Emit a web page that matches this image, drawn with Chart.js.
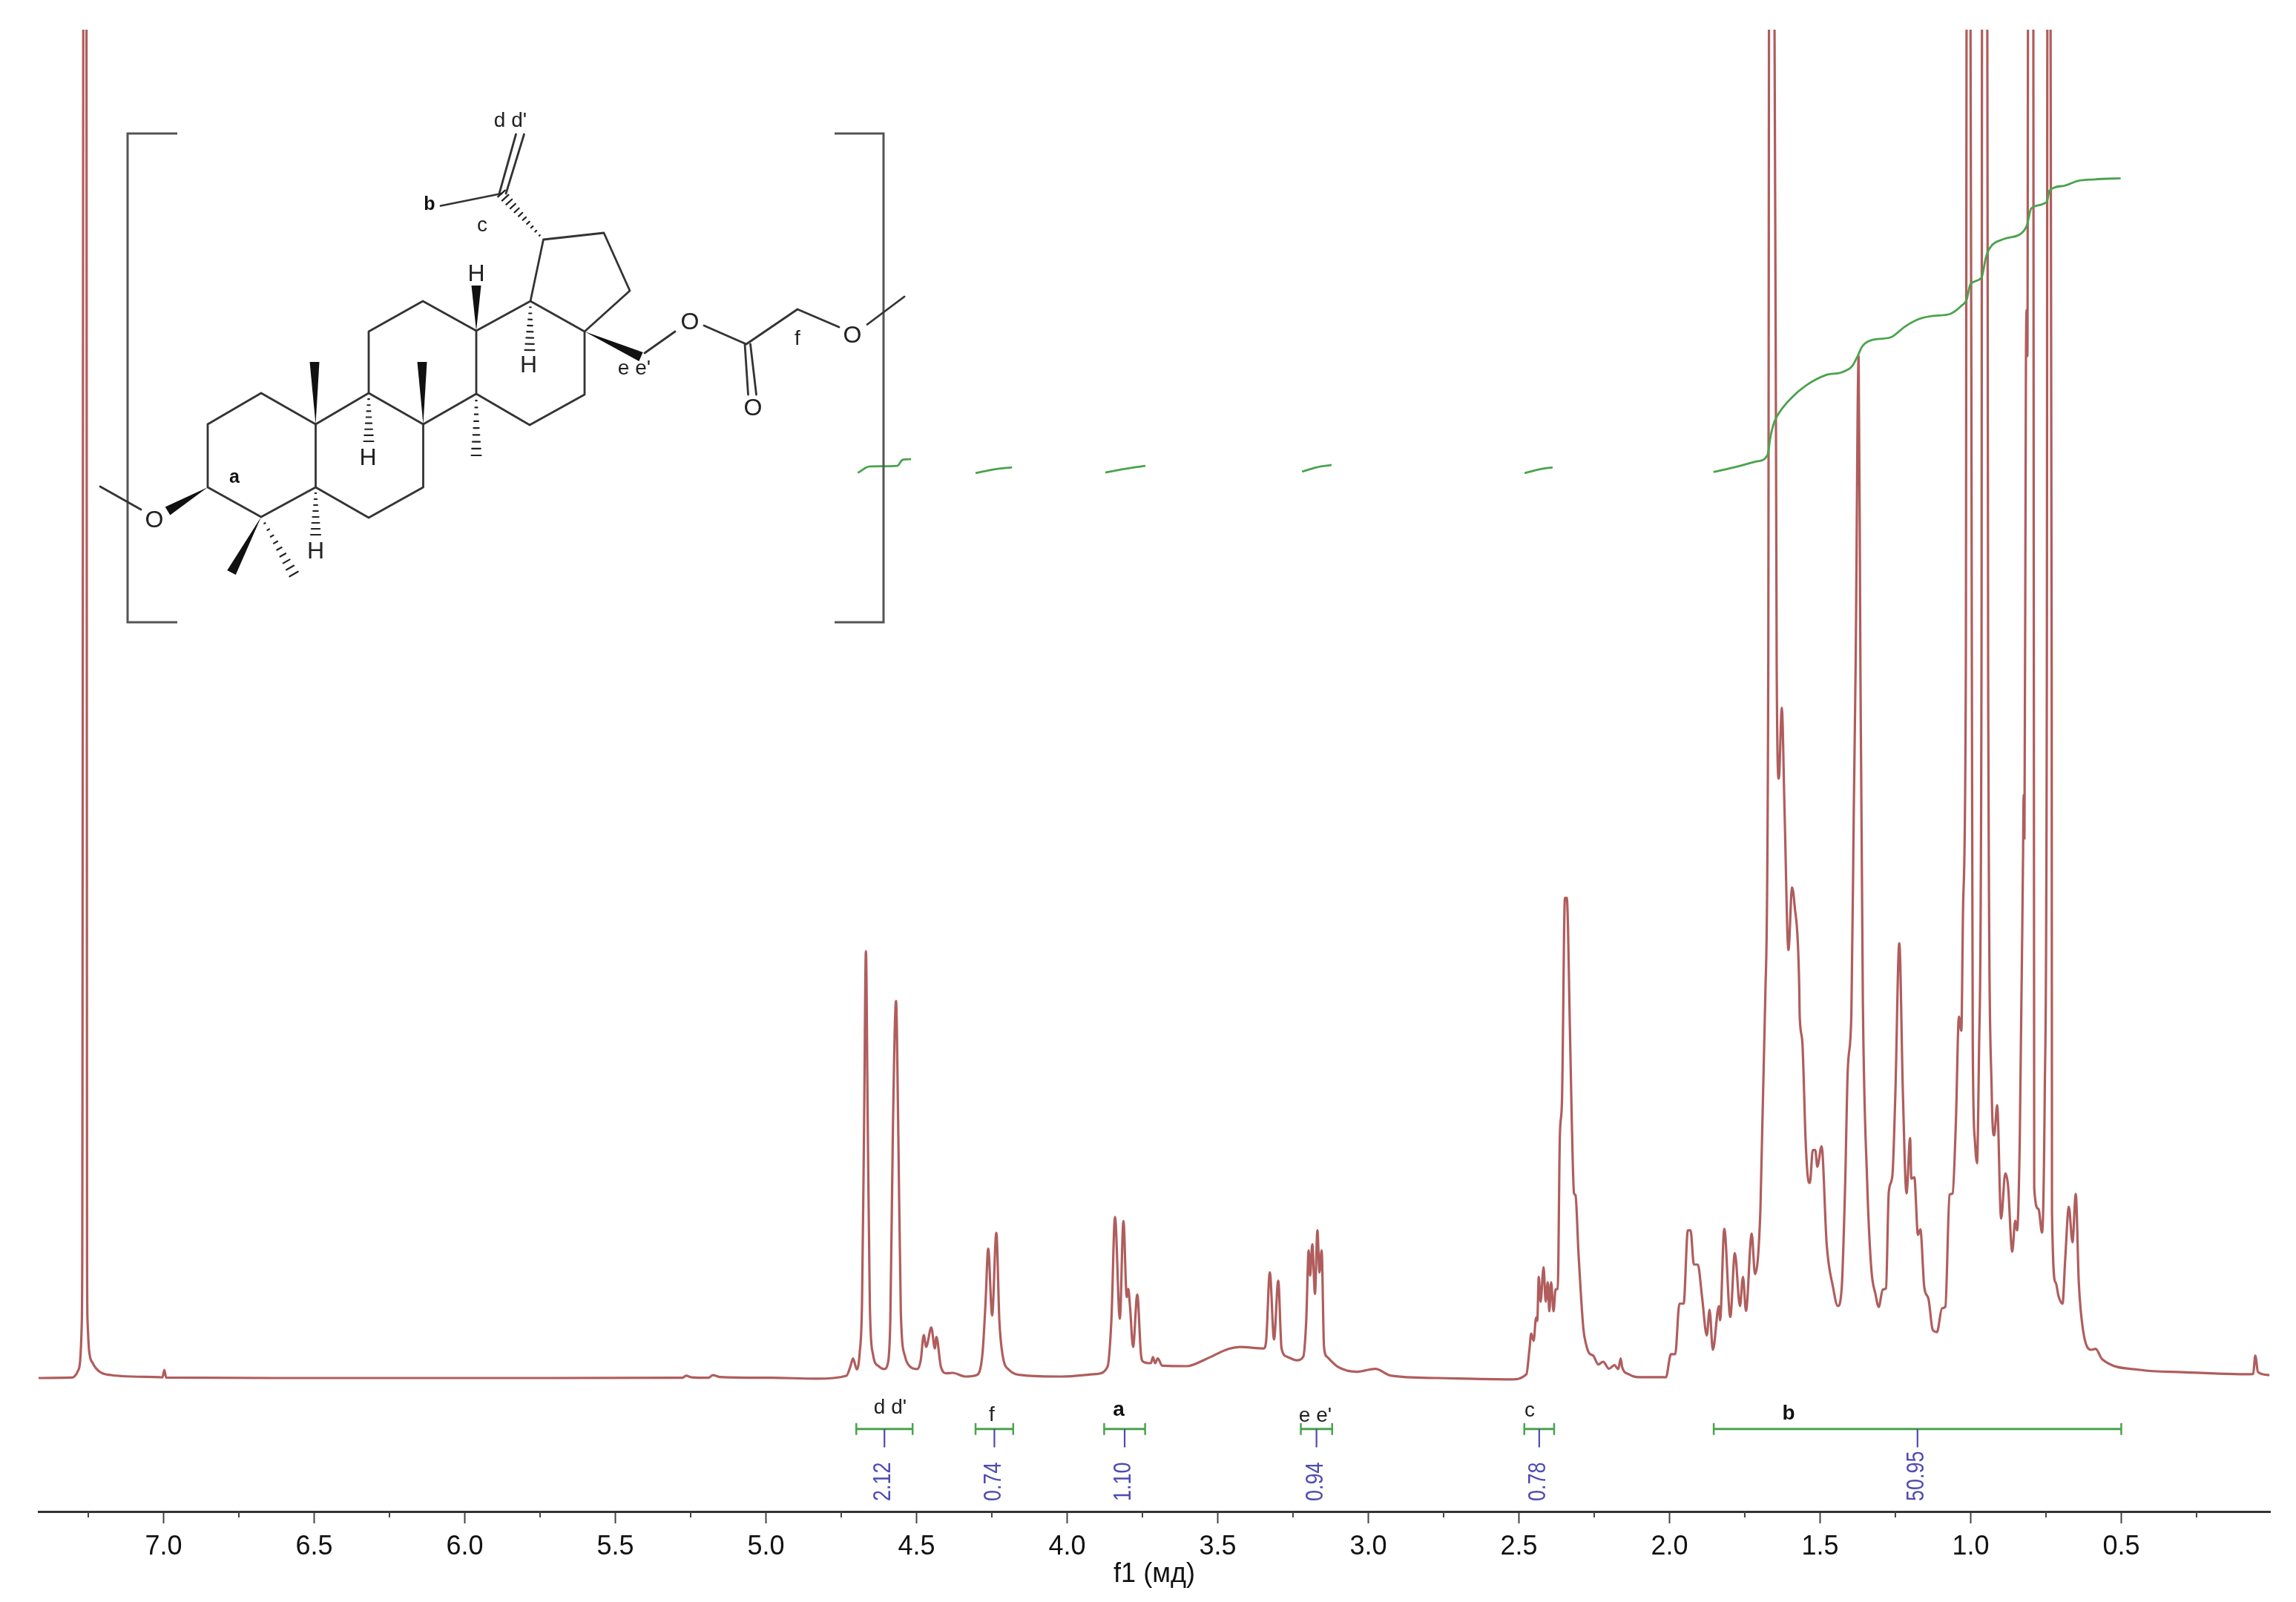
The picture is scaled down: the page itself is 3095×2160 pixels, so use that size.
<!DOCTYPE html>
<html><head><meta charset="utf-8">
<style>html,body{margin:0;padding:0;background:#fff}canvas{display:block;filter:blur(0.7px)}</style>
<script src="https://cdn.jsdelivr.net/npm/chart.js@4/dist/chart.umd.min.js"></script>
</head><body><canvas id="c" width="3095" height="2160"></canvas>
<script>
// Spectrum: chemical shift (ppm) and intensity (percent of the visible height).
const spectrumPpm = [
7.415,7.309,7.297,7.285,7.277,7.272,7.270,7.266,7.256,7.254,7.2525,7.2475,7.235,7.2106,7.1736,7.1367,7.0136,7.0037,6.9975,6.9914,
6.558,5.819,5.277,5.265,5.247,5.191,5.176,5.154,4.982,4.834,
4.733,4.720,4.711,4.698,4.689,4.681,4.674,4.668,4.662,4.655,4.645,4.626,4.608,4.595,4.587,4.578,4.568,4.561,4.552,4.538,4.520,4.497,
4.486,4.476,4.468,4.451,4.439,4.434,4.419,4.400,4.381,4.337,4.300,4.281,4.271,4.262,4.249,4.235,4.225,4.215,4.193,4.143,4.017,3.904,
3.866,3.853,3.841,3.825,3.813,3.802,3.797,3.791,3.781,3.767,3.755,3.747,3.722,3.715,3.708,3.699,3.684,3.602,3.539,3.464,3.426,3.347,
3.339,3.327,3.313,3.299,3.288,3.269,3.238,3.216,3.206,3.198,3.193,3.186,3.177,3.169,3.162,3.155,3.147,3.137,3.100,3.037,2.977,2.924,2.772,2.526,
2.475,2.465,2.459,2.451,2.443,2.439,2.434,2.428,2.418,2.411,2.404,2.399,2.393,2.385,2.378,2.371,2.364,2.357,2.347,2.341,2.330,2.324,2.317,2.312,2.302,2.286,2.277,2.267,2.253,2.236,2.220,2.201,2.183,2.170,2.162,2.157,2.135,2.102,2.017,
2.012,1.995,1.981,1.967,1.953,1.939,1.930,1.919,1.906,1.892,1.876,1.867,1.856,1.836,1.832,1.818,1.798,1.783,1.766,1.756,1.746,1.727,1.716,1.698,1.682,1.672,1.669,1.652,1.644,
1.637,1.627,1.618,1.605,1.593,1.585,1.569,1.568,1.559,1.548,1.541,1.534,1.524,1.516,1.509,1.495,1.478,1.457,1.441,1.428,1.417,1.408,1.396,1.388,1.382,1.372,1.366,
1.358,1.344,1.330,1.316,1.305,1.292,1.281,1.272,1.260,1.250,1.237,1.225,1.213,1.201,1.197,1.187,1.175,1.167,1.154,1.140,1.126,1.112,1.095,1.084,1.070,1.060,1.049,1.039,1.031,1.025,1.016,1.013,1.001,0.996,
0.993,0.986,0.979,0.972,0.964,0.962,0.945,0.942,0.930,0.922,0.912,0.899,0.885,0.876,0.862,0.852,0.846,0.837,0.826,0.824,0.8214,0.8165,0.814,0.8116,0.809,0.792,
0.789,0.775,0.763,0.754,0.747,0.745,0.735,0.731,0.730,0.718,0.708,0.695,0.686,0.674,0.662,0.651,0.641,0.627,0.599,0.585,0.564,0.437,0.297,0.069,0.062,0.055,0.046,0.008
];
const spectrumIntensity = [
0,0.03,0.1,0.5,1.28,3.78,8.78,106,106,8.78,4.33,2.11,1.11,0.44,0.22,0.14,0.06,0.05,0.61,0.03,
0,0,0.02,0.17,0.05,0.02,0.22,0.08,0.02,-0.05,
0.17,0.83,1.46,0.64,1.83,5.56,19.19,31.97,19.19,5.56,1.83,0.89,0.67,1.11,4.33,19.22,28.25,19.22,4.83,1.61,0.83,0.67,
1.33,3.22,2.33,3.78,2.22,3.08,0.83,0.35,0.39,0.11,0.22,1.83,5.56,9.69,4.69,10.89,4.33,1.83,0.61,0.2,0.11,0.3,
0.84,4.33,12.06,4.44,11.76,6.06,6.67,5.31,2.33,6.25,1.83,1.22,1.11,1.56,1.11,1.46,0.92,0.89,1.42,2.18,2.33,2.22,
2.83,7.91,2.89,7.29,2.22,1.59,1.33,1.59,4.33,9.57,7.67,10.02,6.3,11.06,7.91,9.57,2.33,1.59,0.83,0.47,0.69,0.17,0,-0.1,
0.28,2.13,3.33,2.79,4.52,4.28,7.58,5.72,8.3,5.72,7.18,5.0,7.18,5.0,6.65,6.67,18.08,20.72,35.96,35.96,25.52,18.89,13.83,13.69,9.31,3.72,2.53,1.87,1.67,1.02,1.22,0.7,0.96,0.67,1.47,0.81,0.28,0.06,0.06,
0.05,1.78,1.78,5.57,5.57,11.06,11.06,8.5,8.5,6.11,3.19,5.11,2.11,5.39,4.33,11.17,4.57,9.36,5.39,7.58,5.03,10.81,7.79,12.67,28.42,53.2,106,106,53.2,
44.9,50.2,42.6,32.06,36.74,35.5,29.13,27.36,25.22,17.79,15.13,14.61,17.08,17.08,15.83,17.36,10.0,6.81,5.39,6.81,14.24,23.11,27.36,42.61,53.2,76.5,53.2,
28.44,14.94,8.22,6.28,5.33,6.63,6.73,13.89,15.13,21.33,32.57,21.33,13.83,17.97,14.94,15.03,10.72,11.13,6.81,5.92,3.61,3.44,5.22,5.33,13.72,13.83,19.22,27.07,26.01,35.5,53.2,106,106,53.2,
24.9,17.8,16.09,24.89,53.2,106,106,53.2,21.33,18.17,20.44,11.94,15.33,14.44,9.46,11.78,11.06,17.79,39.22,43.67,40.44,75.83,80,76.56,106,106,
14.24,12.67,10.89,21.33,53.2,106,106,53.2,12.5,7.17,6.11,5.57,8.94,12.83,10.17,13.78,7.17,3.61,2.11,2.19,1.42,0.61,0.44,0.28,0.3,1.67,0.44,0.22
];

// Running integral: large region
const integralPpm = [1.854,1.785,1.708,1.675,1.664,1.652,1.633,1.595,1.548,1.482,1.426,1.393,1.374,1.360,1.331,1.265,1.218,1.171,1.124,1.068,1.030,1.013,1.001,0.964,0.949,0.935,0.888,0.832,0.813,0.799,0.747,0.738,0.691,0.644,0.587,0.502];
const integralValue = [67.87,68.22,68.67,69.11,70.59,71.61,72.4,73.42,74.33,75.12,75.35,75.81,76.61,77.28,77.73,77.96,78.76,79.33,79.56,79.71,80.33,80.79,81.93,82.43,83.97,84.69,85.33,85.74,86.35,87.61,88.11,88.96,89.3,89.68,89.79,89.87];
// Running integral: small regions
const integralDdPpm = [4.695,4.655,4.564,4.546,4.518];
const integralDdValue = [67.8,68.28,68.33,68.78,68.83];
const integralFPpm = [4.304,4.242,4.183];
const integralFValue = [67.78,68.06,68.22];
const integralAPpm = [3.873,3.807,3.740];
const integralAValue = [67.83,68.11,68.33];
const integralEPpm = [3.220,3.171,3.122];
const integralEValue = [67.89,68.22,68.39];
const integralCPpm = [2.481,2.432,2.388];
const integralCValue = [67.78,68.06,68.22];

// Integration regions
const regionStart = [4.700,4.304,3.877,3.224,2.482,1.853];
const regionEnd   = [4.513,4.179,3.741,3.120,2.383,0.500];
const regionValue = ["2.12","0.74","1.10","0.94","0.78","50.95"];
const regionName  = ["d d'","f","a","e e'","c","b"];
const regionBold  = [false,false,true,false,false,true];
const regionLevel = -3.82;
const regionStemEnd = -5.2;

// X axis
const minorTicks = [7.25,6.75,6.25,5.75,5.25,4.75,4.25,3.75,3.25,2.75,2.25,1.75,1.25,0.75,0.25];

const RED='rgba(145,30,30,0.72)', GREEN='#4aa34c', BLUE='#4f4bb0', TEXT='#222', BOND='#333';
const zip=(a,b)=>a.map((v,i)=>({x:v,y:b[i]}));
const lineDs=(data,color,w,order)=>({data,borderColor:color,borderWidth:w,pointRadius:0,tension:0,fill:false,order});
const curveDs=(data,color,w,order)=>Object.assign(lineDs(data,color,w,order),{cubicInterpolationMode:'monotone'});

const datasets=[
  curveDs(zip(integralPpm,integralValue),GREEN,2.8,1),
  curveDs(zip(integralDdPpm,integralDdValue),GREEN,2.8,1),
  curveDs(zip(integralFPpm,integralFValue),GREEN,2.8,1),
  curveDs(zip(integralAPpm,integralAValue),GREEN,2.8,1),
  curveDs(zip(integralEPpm,integralEValue),GREEN,2.8,1),
  curveDs(zip(integralCPpm,integralCValue),GREEN,2.8,1),
  curveDs(zip(spectrumPpm,spectrumIntensity),RED,3.2,5)
];
regionStart.forEach((s,i)=>{
  const mid=(s+regionEnd[i])/2;
  datasets.push(lineDs([{x:mid,y:regionLevel},{x:mid,y:regionStemEnd}],BLUE,2.2,2));
  const d=lineDs([{x:s,y:regionLevel},{x:regionEnd[i],y:regionLevel}],GREEN,3.2,2);
  d.pointRadius=8; d.pointStyle='line'; d.pointRotation=90; d.pointBorderWidth=2.5; d.pointBorderColor=GREEN;
  datasets.push(d);
});

// Annotations drawn on the canvas through the chart's scales
const annotations={id:'annotations',afterDraw(chart){
  const ctx=chart.ctx,xs=chart.scales.x,ys=chart.scales.y,axisY=ys.bottom;
  ctx.save();
  ctx.strokeStyle='#444';ctx.lineWidth=2;
  minorTicks.forEach(v=>{const px=xs.getPixelForValue(v);ctx.beginPath();ctx.moveTo(px,axisY);ctx.lineTo(px,axisY+8);ctx.stroke();});
  regionStart.forEach((s,i)=>{
    const mid=xs.getPixelForValue((s+regionEnd[i])/2);
    ctx.save();ctx.translate(mid-1,axisY-14);ctx.rotate(-Math.PI/2);ctx.scale(1,1.22);
    ctx.font='27px "Liberation Sans"';ctx.fillStyle=BLUE;ctx.textAlign='left';ctx.textBaseline='middle';
    ctx.fillText(regionValue[i],0,0);ctx.restore();
  });
  const nameX=[1200,1337,1508,1773,2062,2411],nameY=[1906,1916,1909,1917,1910,1914];
  regionName.forEach((n,i)=>{
    ctx.font=(regionBold[i]?'bold ':'')+'28px "Liberation Sans"';ctx.fillStyle=regionBold[i]?'#111':TEXT;
    ctx.textAlign='center';ctx.textBaseline='alphabetic';ctx.fillText(n,nameX[i],nameY[i]);
  });
  drawStructure(ctx);
  ctx.restore();
}};

function drawStructure(ctx){
  // Brackets
  ctx.strokeStyle='#555';ctx.lineWidth=3;ctx.lineJoin='miter';
  const poly=p=>{ctx.beginPath();p.forEach((q,i)=>i?ctx.lineTo(q[0],q[1]):ctx.moveTo(q[0],q[1]));ctx.stroke();};
  poly([[239,180],[172,180],[172,839],[239,839]]);
  poly([[1125,180],[1191,180],[1191,839],[1125,839]]);
  // Skeleton
  ctx.strokeStyle=BOND;ctx.lineWidth=2.8;ctx.lineJoin='round';ctx.lineCap='round';
  const A=[[280,572],[352,530],[425.5,572],[425.5,657],[352,697],[280,657]];
  poly([...A,A[0]]);
  poly([[425.5,572],[497,530],[570.5,572],[570.5,657],[497,698],[425.5,657]]);
  poly([[497,530],[497,447],[570,406],[642,446],[642,531],[570.5,572]]);
  poly([[642,446],[715,406],[788,447],[788,532],[714,573],[642,531]]);
  poly([[715,406],[732.5,323],[814,314],[849,392],[788,447]]);
  poly([[676,261],[594,277.5]]);
  poly([[673,261],[695.5,181]]);poly([[682,261],[706.5,181]]);
  poly([[190,687],[135,656]]);
  poly([[869,476],[910,447]]);
  poly([[949,439],[1006,464],[1075,417],[1131,441]]);
  poly([[1169,437.5],[1219,400]]);
  poly([[1004,464],[1008.5,532]]);poly([[1011.5,464],[1019.5,532]]);
  // Stereo bonds
  const wedge=(x1,y1,x2,y2,w)=>{const dx=x2-x1,dy=y2-y1,l=Math.hypot(dx,dy),nx=-dy/l*w/2,ny=dx/l*w/2;
    ctx.fillStyle='#111';ctx.beginPath();ctx.moveTo(x1,y1);ctx.lineTo(x2+nx,y2+ny);ctx.lineTo(x2-nx,y2-ny);ctx.closePath();ctx.fill();};
  const hash=(x1,y1,x2,y2,w,n)=>{const dx=x2-x1,dy=y2-y1,l=Math.hypot(dx,dy),ux=-dy/l,uy=dx/l;
    ctx.strokeStyle='#222';ctx.lineWidth=2.2;
    for(let i=1;i<=n;i++){const t=i/n,cx=x1+dx*t,cy=y1+dy*t,h=w*t/2;ctx.beginPath();ctx.moveTo(cx-ux*h,cy-uy*h);ctx.lineTo(cx+ux*h,cy+uy*h);ctx.stroke();}};
  wedge(642,446,642,385,13);
  wedge(425.5,572,424,488,13);
  wedge(570.5,572,569,488,13);
  wedge(352,697,312,772,13);
  wedge(280,657,226,689,13);
  wedge(788,447,864,481,13);
  hash(732.5,323,676,261,13,11);
  hash(715,406,714,472,13,8);
  hash(497,530,497,595,13,8);
  hash(642,531,642,614,13,9);
  hash(425.5,657,425.5,721,13,8);
  hash(352,697,396,774,13,9);
  // Atom and position labels
  ctx.fillStyle=TEXT;ctx.textAlign='center';ctx.textBaseline='middle';
  ctx.font='32px "Liberation Sans"';
  [[642,370],[712.5,493],[496,618],[425.5,744]].forEach(p=>ctx.fillText('H',p[0],p[1]));
  [[208,702],[930,435],[1015,551],[1149,453]].forEach(p=>ctx.fillText('O',p[0],p[1]));
  ctx.font='28px "Liberation Sans"';
  ctx.fillText("d d'",688,163);ctx.fillText('c',650,304);ctx.fillText("e e'",855,497);ctx.fillText('f',1075,457);
  ctx.font='bold 25px "Liberation Sans"';ctx.fillStyle='#111';
  ctx.fillText('a',316,644);ctx.fillText('b',579,276);
}

new Chart(document.getElementById('c'),{
  type:'line',
  data:{datasets},
  plugins:[annotations],
  options:{
    responsive:false,animation:false,events:[],normalized:false,
    layout:{padding:{left:52,right:35,top:40,bottom:0}},
    plugins:{legend:{display:false},tooltip:{enabled:false},title:{display:false}},
    scales:{
      x:{type:'linear',reverse:true,min:0.006,max:7.415,
        afterFit(s){s.height=122;},
        border:{display:true,color:'#333',width:3},
        grid:{display:true,drawOnChartArea:false,drawTicks:true,tickLength:16,tickColor:'#444',tickWidth:2},
        ticks:{stepSize:0.5,includeBounds:false,autoSkip:false,maxRotation:0,minRotation:0,padding:10,
          font:{family:'"Liberation Sans"',size:36},color:'#111',callback:v=>v.toFixed(1)},
        title:{display:true,text:'f1 (мд)',color:'#111',font:{family:'"Liberation Sans"',size:36},padding:{top:0,bottom:15}}},
      y:{display:false,min:-10,max:101}
    }
  }
});
</script></body></html>
